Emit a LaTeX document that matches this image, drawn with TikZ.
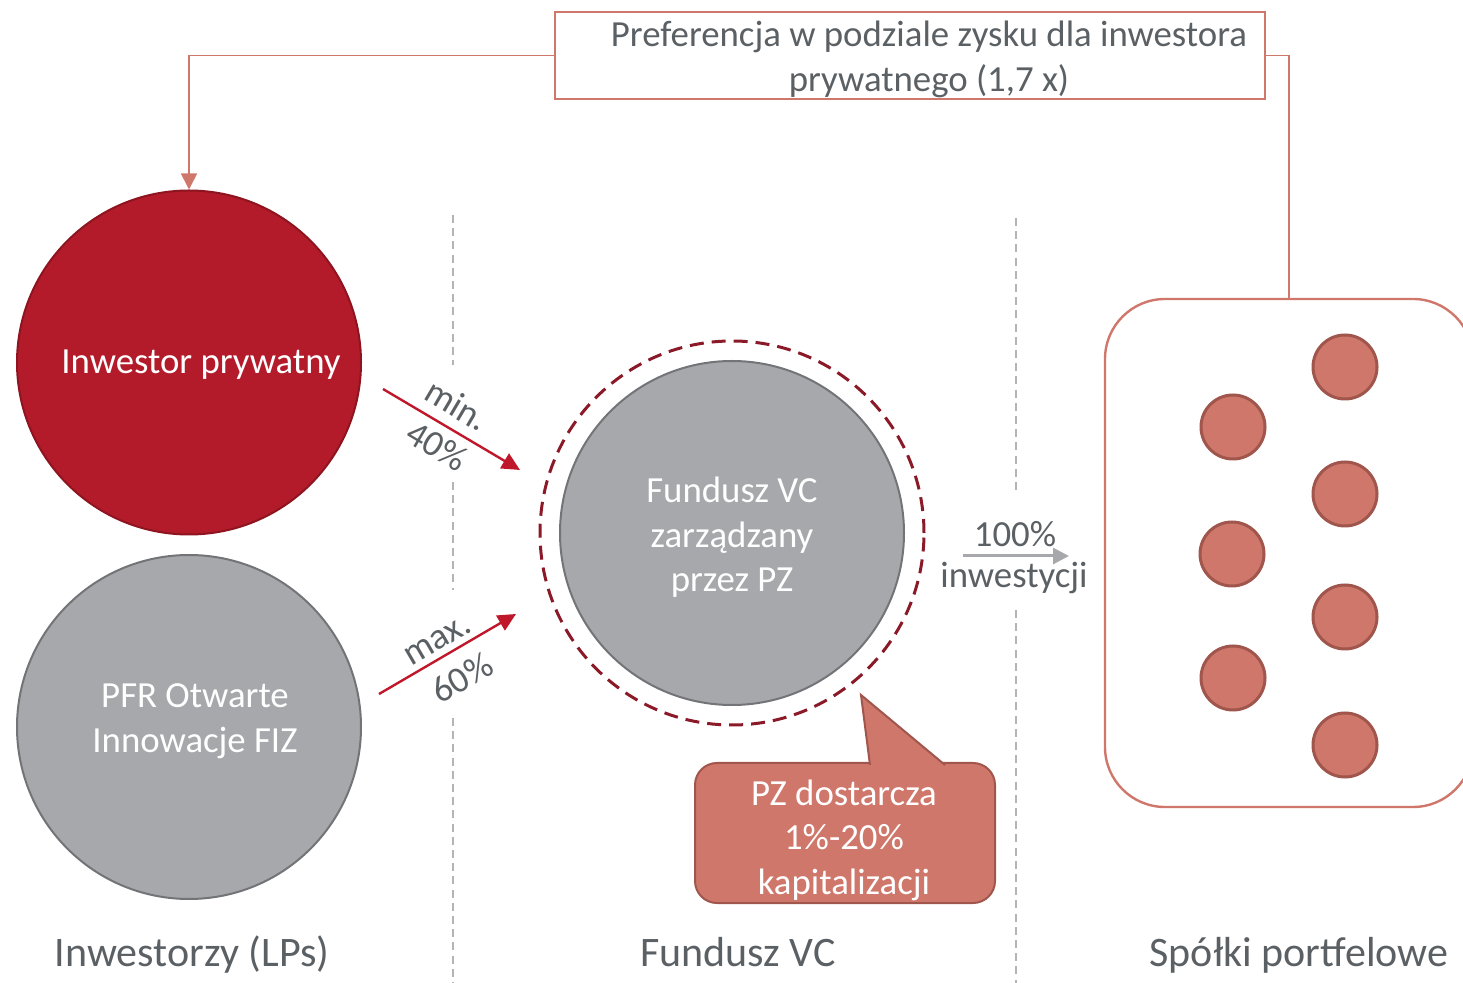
\documentclass[tikz,border=0pt]{standalone}
\usepackage{fontspec}
\setmainfont{Carlito}
\usetikzlibrary{arrows.meta}
\definecolor{tgray}{HTML}{5B6064}
\definecolor{ipred}{HTML}{B31B2A}
\definecolor{ipborder}{HTML}{8E1420}
\definecolor{cgray}{HTML}{A6A8AB}
\definecolor{cborder}{HTML}{727477}
\definecolor{salmon}{HTML}{D0776B}
\definecolor{salmonborder}{HTML}{A0564C}
\definecolor{dred}{HTML}{8B1A28}
\definecolor{arrred}{HTML}{C0182B}
\definecolor{divgray}{HTML}{B4B4B4}
\tikzset{
  maintxt/.style={font=\fontsize{18.4}{22.3}\selectfont, text=tgray, align=center, inner sep=0pt},
  whitetxt/.style={font=\fontsize{18.4}{22.3}\selectfont, text=white, align=center, inner sep=0pt},
  bottomtxt/.style={font=\fontsize{21}{25}\selectfont, text=tgray, inner sep=0pt, anchor=base},
  bigcircle/.style={circle, minimum size=172pt, inner sep=0pt, line width=1pt},
  smallcircle/.style={circle, minimum size=32pt, inner sep=0pt, fill=salmon, draw=salmonborder, line width=1.5pt},
  divider/.style={divgray, line width=1pt, dash pattern=on 4pt off 2.6pt},
  linkline/.style={salmon, line width=0.9pt},
  flowarrow/.style={arrred, line width=1.2pt, -{Triangle[length=9pt,width=8.5pt]}},
}
\begin{document}
\begin{tikzpicture}[x=0.5pt,y=-0.5pt]
\useasboundingbox (0,0) rectangle (1463,983);

% dividers
\draw[divider] (453,215) -- (453,365);
\draw[divider] (453,482) -- (453,590);
\draw[divider] (453,718) -- (453,983);
\draw[divider] (1016,218) -- (1016,495);
\draw[divider] (1016,610) -- (1016,983);

% top preference box
\node[draw=salmon, line width=1pt, minimum width=355pt, minimum height=43.5pt, inner sep=0pt] (pref) at (910,55.5) {};
\node[maintxt] (preftxt) at (929,59.5) {Preferencja w podziale zysku dla inwestora\\prywatnego (1,7 x)};

% portfolio box
\node[draw=salmon, line width=1.2pt, rounded corners=30pt, minimum width=184pt, minimum height=254pt, inner sep=0pt] (port) at (1289,553) {};

% investor circles
\node[bigcircle, fill=ipred, draw=ipborder] (ip) at (189,362.5) {};
\node[whitetxt] (iptxt) at (201,365) {Inwestor prywatny};
\node[bigcircle, fill=cgray, draw=cborder] (pfr) at (189,727) {};
\node[whitetxt] (pfrtxt) at (195,721) {PFR Otwarte\\Innowacje FIZ};

% fund circle
\node[circle, minimum size=192pt, inner sep=0pt, draw=dred, line width=1.5pt, dash pattern=on 7pt off 4pt] (fundring) at (732,533) {};
\node[bigcircle, fill=cgray, draw=cborder] (fund) at (732,533) {};
\node[whitetxt] (fundtxt) at (732,537.5) {Fundusz VC\\zarządzany\\przez PZ};

% connectors from preference box
\draw[linkline, -{Triangle[length=8pt,width=8pt]}] (pref.west) -| (ip.north);
\draw[linkline] (pref.east) -| (port.north);

% small portfolio circles
\node[smallcircle] (s1) at (1345,367) {};
\node[smallcircle] (s2) at (1233,427) {};
\node[smallcircle] (s3) at (1345,494) {};
\node[smallcircle] (s4) at (1232,554) {};
\node[smallcircle] (s5) at (1345,617) {};
\node[smallcircle] (s6) at (1233,678) {};
\node[smallcircle] (s7) at (1345,745) {};

% flow arrows
\coordinate (a1s) at (383,389);
\coordinate (a1e) at (520,470);
\coordinate (a2s) at (379,694);
\coordinate (a2e) at (516,614);
\draw[flowarrow] (a1s) -- (a1e);
\draw[flowarrow] (a2s) -- (a2e);
\node[maintxt, rotate=-30.6] (minlbl) at (457,405) {min.};
\node[maintxt, rotate=-30.6] (pct40) at (437,446) {40\%};
\node[maintxt, rotate=30.3] (maxlbl) at (438,641) {max.};
\node[maintxt, rotate=30.3] (pct60) at (462,678) {60\%};

% 100% arrow
\coordinate (a3s) at (963,556);
\coordinate (a3e) at (1069,556);
\draw[cgray, line width=1.5pt, -{Triangle[length=8pt,width=8pt]}] (a3s) -- (a3e);
\node[maintxt] (pct100) at (1015,534) {100\%};
\node[maintxt] (inwlbl) at (1014,578) {inwestycji};

% callout
\node[fill=salmon, draw=salmonborder, line width=1pt, rounded corners=11pt, minimum width=150pt, minimum height=70pt, inner sep=0pt] (pz) at (845,833) {};
\coordinate (tip) at (861,695);
\filldraw[fill=salmon, draw=salmonborder, line width=1pt] (870,765) -- (tip) -- (945,765);
\node[whitetxt] (pztxt) at (844,840) {PZ dostarcza\\1\%-20\%\\kapitalizacji};

% bottom labels
\node[bottomtxt] (lbl1) at (192,966) {Inwestorzy (LPs)};
\node[bottomtxt] (lbl2) at (738,966) {Fundusz VC};
\node[bottomtxt] (lbl3) at (1299,966) {Spółki portfelowe};
\end{tikzpicture}
\end{document}
